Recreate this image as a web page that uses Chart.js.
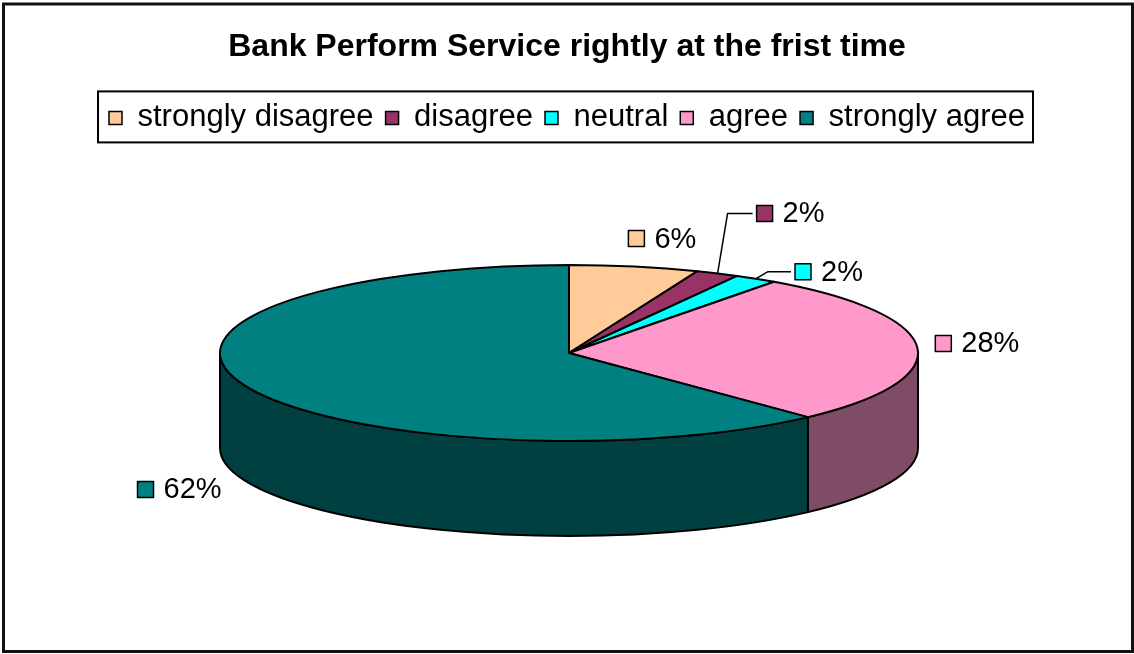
<!DOCTYPE html>
<html>
<head>
<meta charset="utf-8">
<title>Bank Perform Service rightly at the frist time</title>
<script src="https://cdn.jsdelivr.net/npm/chart.js@4.4.1/dist/chart.umd.min.js"></script>
<style>
  html, body { margin: 0; padding: 0; background: #fff; }
</style>
</head>
<body>
<canvas id="pieChart" width="1134" height="654"></canvas>
<script>
var answerLabels = ['strongly disagree', 'disagree', 'neutral', 'agree', 'strongly agree'];
var answerShares = [6, 2, 2, 28, 62];
var valueLabels = ['6%', '2%', '2%', '28%', '62%'];
var sliceColors = ['#FFCC99', '#993366', '#00FFFF', '#FF99CC', '#008080'];

var fontFamily = "'Liberation Sans', Arial, sans-serif";

// half brightness for the pie wall
function darker(hex) {
    var n = parseInt(hex.slice(1), 16);
    var r = (n >> 16) >> 1, g = ((n >> 8) & 255) >> 1, b = (n & 255) >> 1;
    return 'rgb(' + r + ',' + g + ',' + b + ')';
}

// draws the arcs as a tilted pie with a front wall, plus outside labels
var pie3d = {
    id: 'pie3d',
    beforeDraw: function (chart) {
        var ctx = chart.ctx;
        ctx.save();
        ctx.fillStyle = '#fff';
        ctx.fillRect(0, 0, chart.width, chart.height);
        ctx.lineWidth = 3;
        ctx.strokeStyle = '#111';
        ctx.strokeRect(3.5, 4, chart.width - 5, chart.height - 6.5);
        ctx.restore();
    },
    beforeDatasetsDraw: function (chart, args, opts) {
        var ctx = chart.ctx;
        var arcs = chart.getDatasetMeta(0).data;
        var colors = chart.data.datasets[0].backgroundColor;
        var cx = opts.cx, cy = opts.cy, rx = opts.rx, ry = opts.ry, d = opts.depth;

        ctx.save();
        ctx.lineWidth = 2;
        ctx.strokeStyle = '#000';
        ctx.lineJoin = 'round';

        // front wall, only the part facing us (0..PI)
        arcs.forEach(function (arc, i) {
            var a = Math.max(arc.startAngle, 0);
            var b = Math.min(arc.endAngle, Math.PI);
            if (b <= a) return;
            ctx.beginPath();
            ctx.ellipse(cx, cy, rx, ry, 0, a, b);
            ctx.lineTo(cx + rx * Math.cos(b), cy + d + ry * Math.sin(b));
            ctx.ellipse(cx, cy + d, rx, ry, 0, b, a, true);
            ctx.closePath();
            ctx.fillStyle = darker(colors[i]);
            ctx.fill();
            ctx.stroke();
        });

        // top faces
        arcs.forEach(function (arc, i) {
            ctx.beginPath();
            ctx.moveTo(cx, cy);
            ctx.ellipse(cx, cy, rx, ry, 0, arc.startAngle, arc.endAngle);
            ctx.closePath();
            ctx.fillStyle = colors[i];
            ctx.fill();
            ctx.stroke();
        });

        // value labels
        ctx.lineWidth = 1.5;
        ctx.font = opts.labelSize + 'px ' + fontFamily;
        ctx.textBaseline = 'middle';
        ctx.textAlign = 'left';
        arcs.forEach(function (arc, i) {
            var mid = (arc.startAngle + arc.endAngle) / 2;
            var ax = cx + rx * Math.cos(mid);
            var ay = cy + ry * Math.sin(mid);
            var off = opts.labelOffsets[i];
            var bx = ax + off.dx, by = ay + off.dy;

            if (off.leader) {
                ctx.beginPath();
                ctx.moveTo(ax, ay);
                ctx.lineTo(ax + off.bend, by);
                ctx.lineTo(bx - 4, by);
                ctx.stroke();
            }
            ctx.fillStyle = colors[i];
            ctx.fillRect(bx, by - 8, 16, 16);
            ctx.strokeRect(bx, by - 8, 16, 16);
            ctx.fillStyle = '#000';
            ctx.fillText(valueLabels[i], bx + 26, by + 1);
        });

        ctx.restore();
        return false;
    },
    afterDraw: function (chart) {
        // frame round the legend
        var boxes = chart.legend.legendHitBoxes;
        if (!boxes || !boxes.length) return;
        var first = boxes[0], last = boxes[boxes.length - 1];
        var ctx = chart.ctx;
        ctx.save();
        ctx.lineWidth = 2;
        ctx.strokeStyle = '#000';
        ctx.strokeRect(first.left - 11, first.top - 11, last.left + last.width + 19 - first.left, first.height + 20);
        ctx.restore();
    }
};

new Chart(document.getElementById('pieChart'), {
    type: 'pie',
    data: {
        labels: answerLabels,
        datasets: [{
            data: answerShares,
            backgroundColor: sliceColors,
            borderColor: '#000',
            borderWidth: 1.5
        }]
    },
    options: {
        responsive: false,
        animation: false,
        layout: { padding: { left: 0, right: 0, top: 0, bottom: 100 } },
        plugins: {
            title: {
                display: true,
                text: 'Bank Perform Service rightly at the frist time',
                color: '#000',
                font: { family: fontFamily, size: 32, weight: 'bold' },
                padding: { top: 28, bottom: 24 }
            },
            legend: {
                display: true,
                position: 'top',
                labels: {
                    color: '#000',
                    font: { family: fontFamily, size: 31 },
                    boxWidth: 13,
                    boxHeight: 13,
                    padding: 12
                }
            },
            tooltip: { enabled: false },
            pie3d: {
                cx: 569, cy: 353, rx: 349, ry: 88, depth: 95,
                labelSize: 29,
                labelOffsets: [
                    { dx: -6, dy: -28 },
                    { dx: 39, dy: -60, leader: true, bend: 10 },
                    { dx: 39, dy: -7, leader: true, bend: 12 },
                    { dx: 18, dy: -4 },
                    { dx: -107, dy: 104 }
                ]
            }
        }
    },
    plugins: [pie3d]
});
</script>
</body>
</html>
